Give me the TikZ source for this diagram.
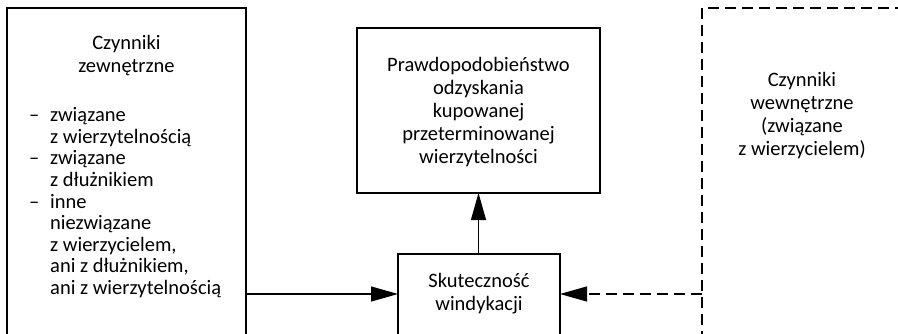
\documentclass[tikz,border=0pt]{standalone}
\usepackage{fontspec}
\setmainfont{Carlito}
\usetikzlibrary{arrows.meta}
\begin{document}
\begin{tikzpicture}[x=1pt,y=-1pt,
  box/.style={draw,line width=1.1pt,rectangle,outer sep=0pt,inner sep=0pt,anchor=north west},
  dbox/.style={box,dash pattern=on 11pt off 6pt},
  txt/.style={inner sep=0pt,font=\fontsize{20.5}{22.8}\selectfont},
  ltxt/.style={inner sep=0pt,font=\fontsize{20.5}{21.6}\selectfont},
  conn/.style={line width=1.1pt,-{Triangle[length=27pt,width=15pt]}}]
\useasboundingbox (0,0) rectangle (898,333);
\clip (0,0) rectangle (898,333);
\fill[white] (0,0) rectangle (898,333);
% boxes
\node[box,minimum width=239pt,minimum height=345pt] (ext) at (7,8) {};
\node[box,minimum width=243pt,minimum height=165pt] (prob) at (357,28) {};
\node[box,minimum width=162pt,minimum height=100pt] (skut) at (398,254) {};
\node[dbox,minimum width=210pt,minimum height=345pt] (int) at (702,8) {};
% texts (base anchor = baseline of the last line)
\node[txt,align=center,anchor=base] (extT) at (126.5,72) {Czynniki\\zewnętrzne};
\node[ltxt,align=left,anchor=base west] (extL) at (29,294.5) {%
\makebox[21pt][l]{–}związane\\
\hspace*{21pt}z wierzytelnością\\
\makebox[21pt][l]{–}związane\\
\hspace*{21pt}z dłużnikiem\\
\makebox[21pt][l]{–}inne\\
\hspace*{21pt}niezwiązane\\
\hspace*{21pt}z wierzycielem,\\
\hspace*{21pt}ani z dłużnikiem,\\
\hspace*{21pt}ani z wierzytelnością};
\node[txt,align=center,anchor=base] (probT) at (478.5,163) {Prawdopodobieństwo\\odzyskania\\kupowanej\\przeterminowanej\\wierzytelności};
\node[txt,align=center,anchor=base] (skutT) at (479,310) {Skuteczność\\windykacji};
\node[txt,align=center,anchor=base] (intT) at (802,155) {Czynniki\\wewnętrzne\\(związane\\z wierzycielem)};
% connectors
\coordinate (lvl) at (0,294);
\draw[conn] (ext.east |- lvl) -- (skut.west |- lvl);
\draw[conn,dash pattern=on 11pt off 6pt] (int.west |- lvl) -- (skut.east |- lvl);
\draw[conn] (skut.north -| probT) -- (prob.south -| probT);
\end{tikzpicture}
\end{document}
